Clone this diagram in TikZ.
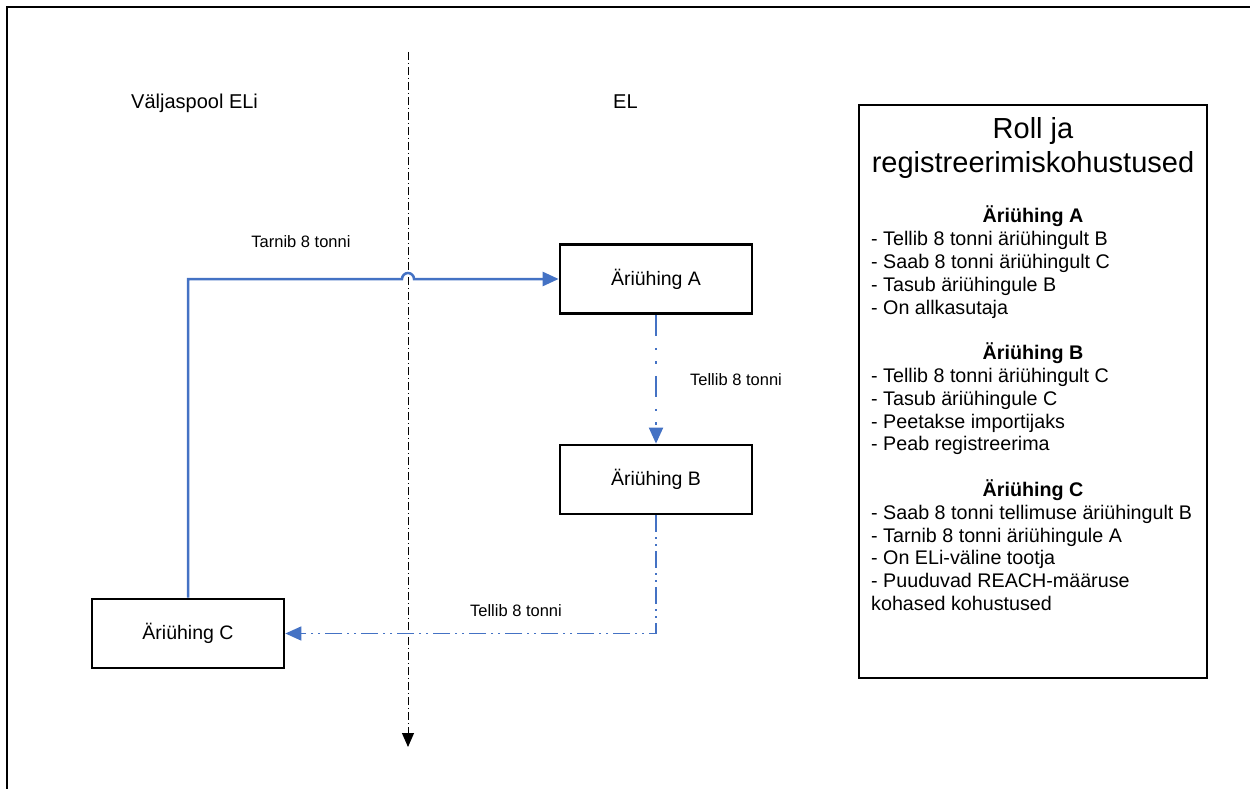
\documentclass[tikz,border=0pt]{standalone}
\usepackage{fontspec}
\setmainfont{Liberation Sans}
\usetikzlibrary{arrows.meta}
\definecolor{linkblue}{HTML}{4472C4}
\begin{document}
\begin{tikzpicture}[x=1pt,y=-1pt,
  box/.style={draw=black,line width=2.7pt,minimum width=192pt,minimum height=69pt,inner sep=0pt,font=\fontsize{19.5}{22}\selectfont},
  lbl/.style={inner sep=0pt,font=\fontsize{16.5}{19}\selectfont},
  region/.style={inner sep=0pt,font=\fontsize{20}{23}\selectfont},
  item/.style={inner sep=0pt,anchor=base west,font=\fontsize{19.7}{22.8}\selectfont},
  head/.style={inner sep=0pt,anchor=base,font=\fontsize{19.7}{22.8}\selectfont\bfseries},
  tip/.style={-{Triangle[length=16pt,width=14pt]}},
  solidlink/.style={draw=linkblue,line width=2.5pt,tip,color=linkblue},
  orderA/.style={draw=linkblue,line width=2pt,tip,color=linkblue,dash pattern=on 21pt off 12pt on 2.5pt off 11pt on 2.5pt off 12pt},
  orderB/.style={draw=linkblue,line width=1.6pt,tip,color=linkblue,dash pattern=on 17pt off 5pt on 2pt off 5pt on 2pt off 5pt},
  divider/.style={draw=black,line width=1pt,dash pattern=on 8pt off 3pt on 1pt off 3pt,-{Triangle[length=14pt,width=12pt]}},
  frame/.style={draw=black,line width=2.5pt}
]
\useasboundingbox (0,0) rectangle (1250,789);
% frame
\coordinate (fTL) at (7,7);
\coordinate (fTR) at (1250,7);
\coordinate (fBL) at (7,789);
\draw[frame] (fTR) -- (fTL) -- (fBL);

% region labels
\node[region,anchor=base west] (outside) at (131,109) {Väljaspool ELi};
\node[region,anchor=base west] (inside) at (613,109) {EL};

% divider
\coordinate (vtop) at (408,52);
\coordinate (vbot) at (408,747);
\draw[divider] (vtop) -- (vbot);

% boxes
\node[box] (A) at (656,279) {Äriühing A};
\node[box] (B) at (656,479.5) {Äriühing B};
\node[box] (C) at (188,633.5) {Äriühing C};

% connectors
\draw[solidlink] (C.north) -- (C.north |- A.west) -- ([xshift=-6pt]A.west -| vtop) arc[start angle=180,end angle=0,radius=6pt] -- (A.west);
\draw[orderA] (A.south) -- (B.north);
\draw[orderB] (B.south) -- (B.south |- C.east) -- (C.east);

% connector labels
\node[lbl] (l1) at (301,242) {Tarnib 8 tonni};
\node[lbl] (l2) at (736,380) {Tellib 8 tonni};
\node[lbl] (l3) at (516,611) {Tellib 8 tonni};

% panel
\node[draw=black,line width=2.5pt,minimum width=348pt,minimum height=573pt,inner sep=0pt] (panel) at (1033,391.5) {};
\node[inner sep=0pt,align=center,font=\fontsize{29}{34}\selectfont] (title) at (1033,148) {Roll ja\\registreerimiskohustused};

\node[head] (hA) at (1033,222.8) {Äriühing A};
\foreach \t [count=\i] in {- Tellib 8 tonni äriühingult B,- Saab 8 tonni äriühingult C,- Tasub äriühingule B,- On allkasutaja}
  \node[item] (a\i) at (871,245.6+22.8*\i-22.8) {\t};

\node[head] (hB) at (1033,359.6) {Äriühing B};
\foreach \t [count=\i] in {- Tellib 8 tonni äriühingult C,- Tasub äriühingule C,- Peetakse importijaks,- Peab registreerima}
  \node[item] (b\i) at (871,382.4+22.8*\i-22.8) {\t};

\node[head] (hC) at (1033,496.4) {Äriühing C};
\foreach \t [count=\i] in {- Saab 8 tonni tellimuse äriühingult B,- Tarnib 8 tonni äriühingule A,- On ELi-väline tootja,- Puuduvad REACH-määruse,kohased kohustused}
  \node[item] (c\i) at (871,519.2+22.8*\i-22.8) {\t};
\end{tikzpicture}
\end{document}
